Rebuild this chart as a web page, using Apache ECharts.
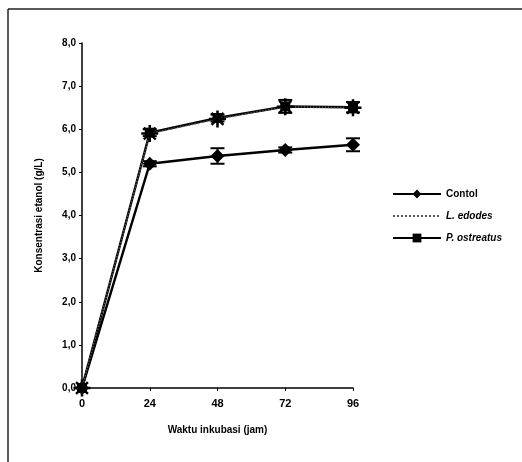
<!DOCTYPE html>
<html>
<head>
<meta charset="utf-8">
<script src="https://cdn.jsdelivr.net/npm/echarts@6/dist/echarts.min.js"></script>
<style>
  html, body { margin: 0; padding: 0; background: #fff; }
  #chart { width: 522px; height: 462px; }
</style>
</head>
<body>
<div id="chart"></div>
<script>
// waktu inkubasi (jam)
const hours = [0, 24, 48, 72, 96];
const yTicks = [0, 1, 2, 3, 4, 5, 6, 7, 8];

// konsentrasi etanol (g/L)
const contol = [0, 5.2, 5.38, 5.52, 5.64];
const contolErr = [0, 0.06, 0.18, 0.06, 0.15];
const lEdodes = [0, 5.9, 6.24, 6.52, 6.5];
const pOstreatus = [0, 5.92, 6.26, 6.53, 6.51];
const pOstreatusErr = [0, 0.08, 0.08, 0.15, 0.12];

const starPath = 'path://M-1.5,-10h3v20h-3Z M-10,-1.5h20v3h-20Z M-8,-6L-6,-8L8,6L6,8Z M6,-8L8,-6L-6,8L-8,6Z';

function pairs(vals) {
  return hours.map((h, i) => [h, vals[i]]);
}

function errorSeries(vals, errs) {
  return {
    type: 'custom',
    silent: true,
    z: 1,
    data: hours.map((h, i) => [h, vals[i] - errs[i], vals[i] + errs[i]]),
    renderItem: (params, api) => {
      const lo = api.coord([api.value(0), api.value(1)]);
      const hi = api.coord([api.value(0), api.value(2)]);
      const w = 7;
      const style = { stroke: '#000', lineWidth: 2 };
      return {
        type: 'group',
        children: [
          { type: 'line', shape: { x1: lo[0], y1: lo[1], x2: hi[0], y2: hi[1] }, style },
          { type: 'line', shape: { x1: lo[0] - w, y1: lo[1], x2: lo[0] + w, y2: lo[1] }, style },
          { type: 'line', shape: { x1: hi[0] - w, y1: hi[1], x2: hi[0] + w, y2: hi[1] }, style }
        ]
      };
    }
  };
}

const chart = echarts.init(document.getElementById('chart'));
const font = 'Liberation Sans, Arial, sans-serif';

chart.setOption({
  animation: false,
  backgroundColor: '#fff',
  textStyle: { fontFamily: font, color: '#000' },
  graphic: [
    { type: 'line', shape: { x1: 8, y1: 9, x2: 522, y2: 9 }, style: { stroke: '#222', lineWidth: 1.5 } },
    { type: 'line', shape: { x1: 8, y1: 9, x2: 8, y2: 462 }, style: { stroke: '#222', lineWidth: 1.5 } }
  ],
  grid: { left: 82, top: 43, right: 169, bottom: 74 },
  legend: {
    orient: 'vertical',
    left: 387,
    top: 184,
    itemWidth: 48,
    itemHeight: 11,
    itemGap: 12,
    data: [
      { name: 'Contol' },
      { name: 'L. edodes', itemStyle: { opacity: 0 } },
      { name: 'P. ostreatus' }
    ],
    formatter: (name) => (name === 'Contol' ? `{n|${name}}` : `{i|${name}}`),
    textStyle: {
      fontFamily: font,
      rich: {
        n: { fontSize: 10, fontWeight: 'bold', color: '#000' },
        i: { fontSize: 10, fontWeight: 'bold', fontStyle: 'italic', color: '#000' }
      }
    }
  },
  xAxis: {
    type: 'value',
    min: 0,
    max: 96,
    interval: 24,
    name: 'Waktu inkubasi (jam)',
    nameLocation: 'middle',
    nameGap: 37,
    nameTextStyle: { fontSize: 10, fontWeight: 'bold', color: '#000' },
    axisLine: { lineStyle: { color: '#000', width: 1.5 } },
    axisTick: { length: 3, lineStyle: { color: '#000' } },
    axisLabel: { fontSize: 11, fontWeight: 'bold', color: '#000', margin: 10 },
    splitLine: { show: false }
  },
  yAxis: {
    type: 'value',
    min: yTicks[0],
    max: yTicks[yTicks.length - 1],
    interval: 1,
    name: 'Konsentrasi etanol (g/L)',
    nameLocation: 'middle',
    nameGap: 38,
    nameTextStyle: { fontSize: 10, fontWeight: 'bold', color: '#000' },
    axisLine: { show: true, lineStyle: { color: '#000', width: 1.5 } },
    axisTick: { show: true, length: 3, lineStyle: { color: '#000' } },
    axisLabel: {
      fontSize: 10,
      fontWeight: 'bold',
      color: '#000',
      margin: 6,
      formatter: (v) => v.toFixed(1).replace('.', ',')
    },
    splitLine: { show: false }
  },
  series: [
    errorSeries(contol, contolErr),
    errorSeries(pOstreatus, pOstreatusErr),
    {
      name: 'Contol',
      type: 'line',
      data: pairs(contol),
      symbol: 'diamond',
      symbolSize: 14,
      z: 3,
      lineStyle: { color: '#000', width: 2.5 },
      itemStyle: { color: '#000' }
    },
    {
      name: 'L. edodes',
      type: 'line',
      data: pairs(lEdodes),
      symbol: starPath,
      symbolSize: 17,
      z: 4,
      lineStyle: { color: '#555', width: 1.5, type: 'dotted' },
      itemStyle: { color: '#000' }
    },
    {
      name: 'P. ostreatus',
      type: 'line',
      data: pairs(pOstreatus),
      symbol: 'rect',
      symbolSize: 10,
      z: 3,
      lineStyle: { color: '#000', width: 2.5 },
      itemStyle: { color: '#000' }
    }
  ]
});
</script>
</body>
</html>
